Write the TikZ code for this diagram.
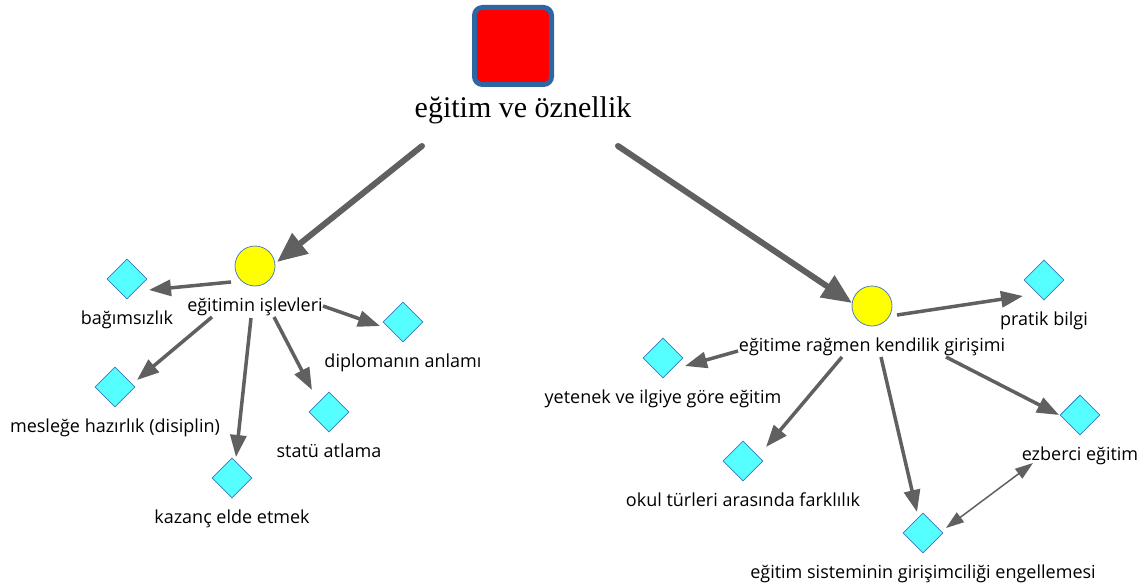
\documentclass[tikz,border=0pt]{standalone}
\usepackage{fontspec}
\setmainfont{Liberation Serif}
\newfontfamily\labfont{Open Sans}
\usetikzlibrary{arrows.meta,shapes.geometric}
\definecolor{arrgray}{HTML}{606060}
\definecolor{diafill}{HTML}{55FFFF}
\definecolor{diaborder}{HTML}{3A78C0}
\definecolor{hubborder}{HTML}{4F81BD}
\definecolor{sqborder}{HTML}{2E65A3}
\definecolor{sqfill}{HTML}{FF0000}
\definecolor{hubfill}{HTML}{FFFF00}
\begin{document}
\begin{tikzpicture}[x=1pt,y=-1pt,
  dia/.style={diamond,draw=diaborder,fill=diafill,line width=0.8pt,minimum width=40pt,minimum height=40pt,inner sep=0pt},
  hub/.style={circle,draw=hubborder,fill=hubfill,line width=0.8pt,minimum size=40pt,inner sep=0pt},
  lab/.style={font=\labfont\fontsize{18}{20}\selectfont,anchor=base,inner sep=0pt},
  arr/.style={draw=arrgray,line width=3.5pt,-{Triangle[length=22pt,width=16pt]}},
  bigarr/.style={draw=arrgray,line width=6pt,line cap=round,-{Triangle[length=30pt,width=25pt]}},
  dblarr/.style={draw=arrgray,line width=1.5pt,{Triangle[length=18pt,width=12pt]}-{Triangle[length=18pt,width=12pt]}}]
\useasboundingbox (0,0) rectangle (1145,588);
\fill[white] (0,0) rectangle (1145,588);

% root
\node[draw=sqborder,fill=sqfill,line width=5pt,rounded corners=8pt,minimum size=77pt,inner sep=0pt] (sq) at (513,46) {};
\node[font=\fontsize{30}{35}\selectfont,anchor=base,inner sep=0pt] (title) at (523,118) {eğitim ve öznellik};

% hubs
\node[hub] (c1) at (255,266) {};
\node[lab] (l0) at ([yshift=-45pt]c1.center) {eğitimin işlevleri};
\node[hub] (c2) at (872,306) {};
\node[lab] (l00) at ([yshift=-45pt]c2.center) {eğitime rağmen kendilik girişimi};

% left leaves
\node[dia] (d1) at (127,279) {};
\node[lab] (l1) at ([yshift=-45pt]d1.center) {bağımsızlık};
\node[dia] (d2) at (115,387) {};
\node[lab] (l2) at ([yshift=-45pt]d2.center) {mesleğe hazırlık (disiplin)};
\node[dia] (d3) at (232,478) {};
\node[lab] (l3) at ([yshift=-45pt]d3.center) {kazanç elde etmek};
\node[dia] (d4) at (329,412) {};
\node[lab] (l4) at ([yshift=-45pt]d4.center) {statü atlama};
\node[dia] (d5) at (403,322) {};
\node[lab] (l5) at ([yshift=-45pt]d5.center) {diplomanın anlamı};

% right leaves
\node[dia] (d6) at (1044,280) {};
\node[lab] (l6) at ([yshift=-45pt]d6.center) {pratik bilgi};
\node[dia] (d7) at (663,358) {};
\node[lab] (l7) at ([yshift=-45pt]d7.center) {yetenek ve ilgiye göre eğitim};
\node[dia] (d8) at (743,461) {};
\node[lab] (l8) at ([yshift=-45pt]d8.center) {okul türleri arasında farklılık};
\node[dia] (d9) at (1080,415) {};
\node[lab] (l9) at ([yshift=-45pt]d9.center) {ezberci eğitim};
\node[dia] (d10) at (923,533) {};
\node[lab] (l10) at ([yshift=-45pt]d10.center) {eğitim sisteminin girişimciliği engellemesi};

% big arrows
\draw[bigarr] ([shift={(-101,28)}]title.base) -- ([shift={(22,-4)}]c1.center);
\draw[bigarr] ([shift={(95,28)}]title.base) -- ([shift={(-20,-3)}]c2.center);

% left arrows
\draw[arr] ([shift={(-24,16)}]c1.center) -- ([shift={(22,11)}]d1.center);
\draw[arr] ([shift={(-43,51)}]c1.center) -- ([shift={(22,-7)}]d2.center);
\draw[arr] ([shift={(-4,52)}]c1.center) -- ([shift={(4,-21)}]d3.center);
\draw[arr] ([shift={(19,51)}]c1.center) -- ([shift={(-17,-22)}]d4.center);
\draw[arr] ([shift={(68,40)}]c1.center) -- ([shift={(-23,4)}]d5.center);

% right arrows
\draw[arr] ([shift={(25,9)}]c2.center) -- ([shift={(-21,16)}]d6.center);
\draw[arr] ([shift={(-134,45)}]c2.center) -- ([shift={(22,8)}]d7.center);
\draw[arr] ([shift={(-30,51)}]c2.center) -- ([shift={(23,-14)}]d8.center);
\draw[arr] ([shift={(74,51)}]c2.center) -- ([shift={(-21,0)}]d9.center);
\draw[arr] ([shift={(9,51)}]c2.center) -- ([shift={(-6,-21)}]d10.center);
\draw[dblarr] ([shift={(23,-5)}]d10.center) -- ([shift={(-47,3)}]l9.base);
\end{tikzpicture}
\end{document}
